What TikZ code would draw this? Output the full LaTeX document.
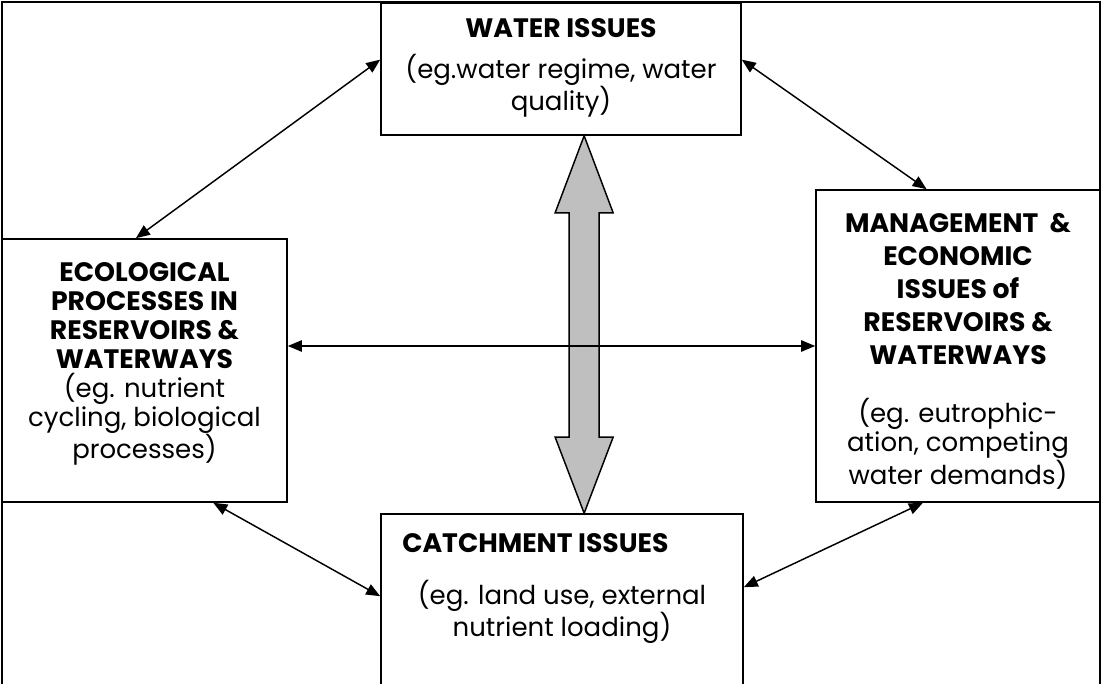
\documentclass[tikz,border=0pt]{standalone}
\usepackage{fontspec}
\setmainfont{Poppins}
\usetikzlibrary{arrows.meta, calc, positioning}

\newcommand{\hd}[1]{{\fontsize{20}{21.75}\selectfont\bfseries #1}}

\tikzset{
  box/.style={draw, line width=1.2pt, inner sep=0pt},
  txt/.style={align=center, inner sep=0pt},
  link/.style={{Triangle[length=10.5pt,width=8.5pt]}-{Triangle[length=10.5pt,width=8.5pt]}, line width=1.1pt},
  bigarrow/.style={draw, fill=black!25, line width=1.1pt, line join=miter},
}

\begin{document}
\begin{tikzpicture}[x=0.75pt, y=-0.75pt, font=\fontsize{19.5}{21.75}\selectfont]
\useasboundingbox (0,0) rectangle (1102,684);
\clip (0,0) rectangle (1102,684);
% outer frame, open at the bottom
\draw[line width=1.2pt] (2,720) -- (2,2) -- (1100,2) -- (1100,720);
% the four boxes
\node[box, minimum width=270pt, minimum height=99pt] (water) at (561,69) {};
\node[box, minimum width=213.75pt, minimum height=197.25pt] (eco) at (144.5,370.5) {};
\node[box, minimum width=213pt, minimum height=234pt] (mgmt) at (958,346) {};
\node[box, minimum width=271.5pt, minimum height=154.5pt] (catch) at (562,617) {};
% texts
\node[txt, anchor=north] (watertxt) at (561,18) {\hd{WATER ISSUES}\\[9pt](eg.water regime, water\\quality)};
\node[txt, anchor=north] (ecotxt) at (144.5,262) {\hd{ECOLOGICAL}\\\hd{PROCESSES IN}\\\hd{RESERVOIRS \&}\\\hd{WATERWAYS}\\(eg. nutrient\\cycling, biological\\processes)};
\node[txt, anchor=north] (mgmttxt) at (958,213) {\hd{MANAGEMENT\ \ \&}\\[3pt]\hd{ECONOMIC}\\[3pt]\hd{ISSUES of}\\[3pt]\hd{RESERVOIRS \&}\\[3pt]\hd{WATERWAYS}\\[22pt](eg. eutrophic-\\ation, competing\\water demands)};
\node[txt, anchor=west] (catchhd) at (402,543) {\hd{CATCHMENT ISSUES}};
\node[txt] (catchtxt) at (562,612) {(eg. land use, external\\nutrient loading)};
% big two-way arrow between water and catchment
\coordinate (up) at ($(water.south west)!.564!(water.south east)$);
\coordinate (dn) at (up |- catch.north);
\draw[bigarrow] (up) -- ++(29,77) -- ++(-14,0) -- ($(dn)+(15,-76)$) -- ++(14,0) -- (dn)
  -- ++(-29,-76) -- ++(14,0) -- ($(up)+(-15,77)$) -- ++(-14,0) -- cycle;
% thin two-way links
\draw[link] ($(eco.north west)!.47!(eco.north east)$) -- ($(water.north west)!.43!(water.south west)$);
\draw[link] ($(water.north east)!.43!(water.south east)$) -- ($(mgmt.north west)!.39!(mgmt.north east)$);
\draw[link] (eco.east |- mgmt.west) -- (mgmt.west);
\draw[link] ($(eco.south west)!.74!(eco.south east)$) -- ($(catch.north west)+(0,83)$);
\draw[link] ($(mgmt.south west)!.377!(mgmt.south east)$) -- ($(catch.north east)+(0,74)$);
\end{tikzpicture}
\end{document}
